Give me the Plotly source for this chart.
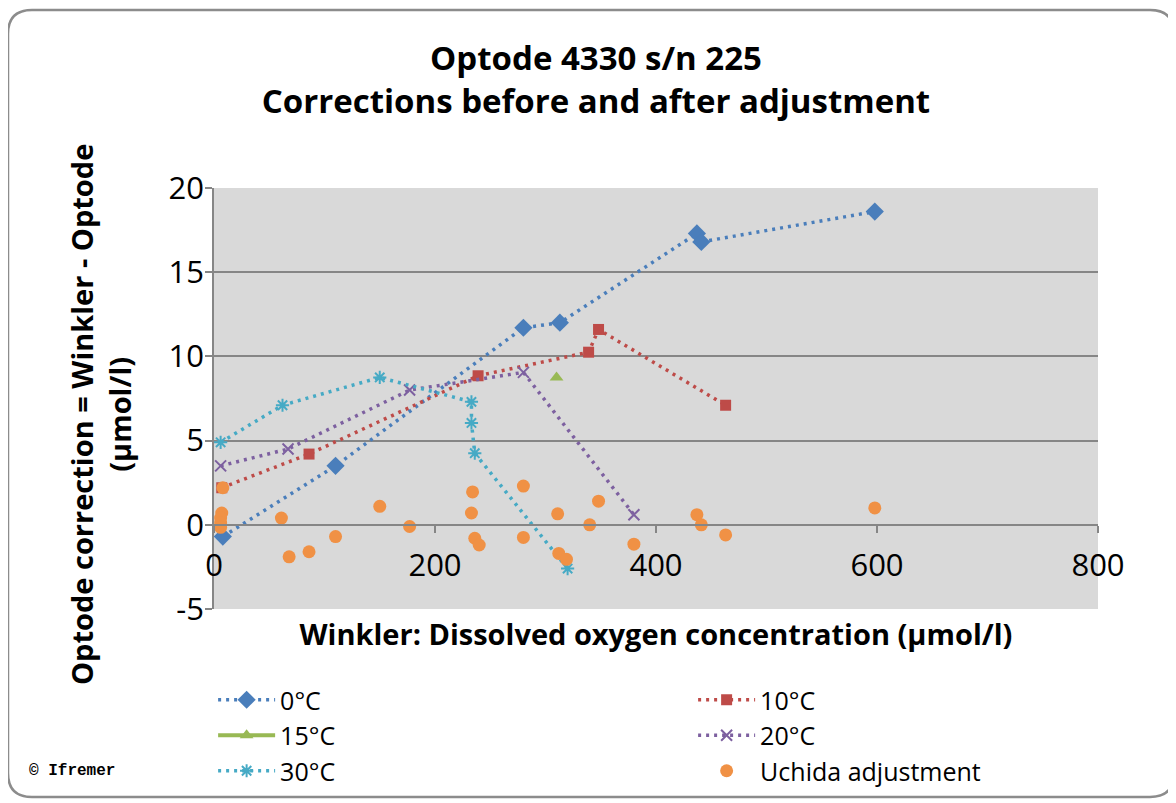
import plotly.graph_objects as go

# Winkler concentration (x) and correction Winkler - Optode (y)
t0_x = [8, 110, 280, 313, 437, 441, 598]
t0_y = [-0.7, 3.5, 11.7, 12.0, 17.3, 16.8, 18.6]

t10_x = [7, 86, 239, 339, 348, 463]
t10_y = [2.2, 4.2, 8.85, 10.25, 11.6, 7.1]

t15_x = [310]
t15_y = [8.75]

t20_x = [6, 67, 177, 280, 380]
t20_y = [3.5, 4.5, 8.0, 9.05, 0.6]

t30_x = [6, 62, 150, 233, 233, 236, 320]
t30_y = [4.9, 7.1, 8.75, 7.3, 6.05, 4.25, -2.6]

uchida_x = [8, 7, 6, 6, 6, 61, 68, 86, 110, 150, 177, 234, 233, 236, 240,
            280, 280, 311, 312, 319, 340, 348, 380, 437, 441, 463, 598]
uchida_y = [2.2, 0.7, 0.4, 0.1, -0.15, 0.4, -1.9, -1.6, -0.7, 1.1, -0.1, 1.95, 0.7, -0.8, -1.2,
            2.3, -0.75, 0.65, -1.7, -2.05, 0.0, 1.4, -1.15, 0.6, 0.0, -0.6, 1.0]

x_ticks = [0, 200, 400, 600, 800]
y_ticks = [-5, 0, 5, 10, 15, 20]

# The page body has an 8px margin, so the figure starts at (8, 8) on screen.
OFF = 8
W, H = 1176 - OFF, 803 - OFF
M_L, M_R, M_T, M_B = 214 - OFF, 78, 188 - OFF, 194
PW, PH = W - M_L - M_R, H - M_T - M_B


# screen pixel -> paper coords
def px(x):
    return (x - OFF - M_L) / PW


def py(y):
    return (H - M_B - (y - OFF)) / PH


FONT = "Open Sans"
GRID = "#868686"
DOT = dict(dash="3px,5px", width=3.5)

fig = go.Figure()

fig.add_trace(go.Scatter(
    x=t0_x, y=t0_y, name="0°C", mode="lines+markers",
    line=dict(color="#4A7EBB", **DOT),
    marker=dict(symbol="diamond", size=14, color="#4A7EBB")
))
fig.add_trace(go.Scatter(
    x=t10_x, y=t10_y, name="10°C", mode="lines+markers",
    line=dict(color="#BE4B48", **DOT),
    marker=dict(symbol="square", size=11, color="#BE4B48")
))
fig.add_trace(go.Scatter(
    x=t15_x, y=t15_y, name="15°C", mode="lines+markers",
    line=dict(color="#98B954", width=4),
    marker=dict(symbol="triangle-up", size=12, color="#98B954")
))
fig.add_trace(go.Scatter(
    x=t20_x, y=t20_y, name="20°C", mode="lines+markers",
    line=dict(color="#7D60A0", **DOT),
    marker=dict(symbol="x-thin-open", size=11, color="#7D60A0",
                line=dict(width=2, color="#7D60A0"))
))
fig.add_trace(go.Scatter(
    x=t30_x, y=t30_y, name="30°C", mode="lines+markers",
    line=dict(color="#46AAC5", **DOT),
    marker=dict(symbol="asterisk-open", size=11, color="#46AAC5",
                line=dict(width=2, color="#46AAC5"))
))
fig.add_trace(go.Scatter(
    x=uchida_x, y=uchida_y, name="Uchida adjustment", mode="markers",
    marker=dict(symbol="circle", size=13, color="#F09145")
))

# Rounded frame around the whole chart
x0, x1, y0, y1, r = 8, 1174, 10, 797, 24
frame = (
    f"M {px(x0 + r)},{py(y0)} L {px(x1 - r)},{py(y0)} "
    f"Q {px(x1)},{py(y0)} {px(x1)},{py(y0 + r)} L {px(x1)},{py(y1 - r)} "
    f"Q {px(x1)},{py(y1)} {px(x1 - r)},{py(y1)} L {px(x0 + r)},{py(y1)} "
    f"Q {px(x0)},{py(y1)} {px(x0)},{py(y1 - r)} L {px(x0)},{py(y0 + r)} "
    f"Q {px(x0)},{py(y0)} {px(x0 + r)},{py(y0)} Z"
)
fig.add_shape(type="path", path=frame, xref="paper", yref="paper",
              line=dict(color="#8C8C8C", width=2.5))

fig.update_xaxes(
    range=[0, 800], tickvals=x_ticks, anchor="free", position=0.2,
    showgrid=False, zeroline=False, showline=True, linecolor=GRID, linewidth=1.5,
    ticks="outside", ticklen=7, tickcolor=GRID, tickwidth=1.5, ticklabelstandoff=6,
    tickfont=dict(family=FONT, size=31, color="black"),
    title=dict(text="<b>Winkler: Dissolved oxygen concentration (µmol/l)</b>",
               font=dict(family=FONT, size=29, color="black"), standoff=40)
)
fig.update_yaxes(
    range=[-5, 20], tickvals=y_ticks, ticktext=[str(v) for v in y_ticks],
    showgrid=True, gridcolor=GRID, gridwidth=1.5, zeroline=False,
    showline=True, linecolor=GRID, linewidth=1.5,
    ticks="outside", ticklen=7, tickcolor=GRID, tickwidth=1.5, ticklabelstandoff=-5,
    tickfont=dict(family=FONT, size=31, color="black")
)

fig.add_annotation(
    text="<b>Optode correction = Winkler - Optode<br>(µmol/l)</b>",
    x=px(100), y=py(415), xref="paper", yref="paper", textangle=-90,
    showarrow=False, xanchor="center", yanchor="middle",
    font=dict(family=FONT, size=29, color="black")
)
fig.add_annotation(
    text="<b>© Ifremer</b>", x=px(27), y=py(771), xref="paper", yref="paper",
    showarrow=False, xanchor="left", yanchor="middle",
    font=dict(family="Liberation Mono", size=16, color="black")
)

fig.update_layout(
    width=W, height=H,
    margin=dict(l=M_L, r=M_R, t=M_T, b=M_B, autoexpand=False),
    paper_bgcolor="white", plot_bgcolor="#D9D9D9",
    title=dict(
        text="<b>Optode 4330 s/n 225<br>Corrections before and after adjustment</b>",
        x=(596 - OFF) / W, xref="container", xanchor="center",
        y=1 - 62 / H, yref="container", yanchor="top",
        font=dict(family=FONT, size=33, color="black")
    ),
    legend=dict(
        orientation="h", x=-0.001, xanchor="left", y=py(677), yanchor="top",
        entrywidth=408, itemwidth=57, bgcolor="rgba(0,0,0,0)",
        font=dict(family=FONT, size=25, color="black")
    ),
    showlegend=True
)

fig.write_html("out.html")
